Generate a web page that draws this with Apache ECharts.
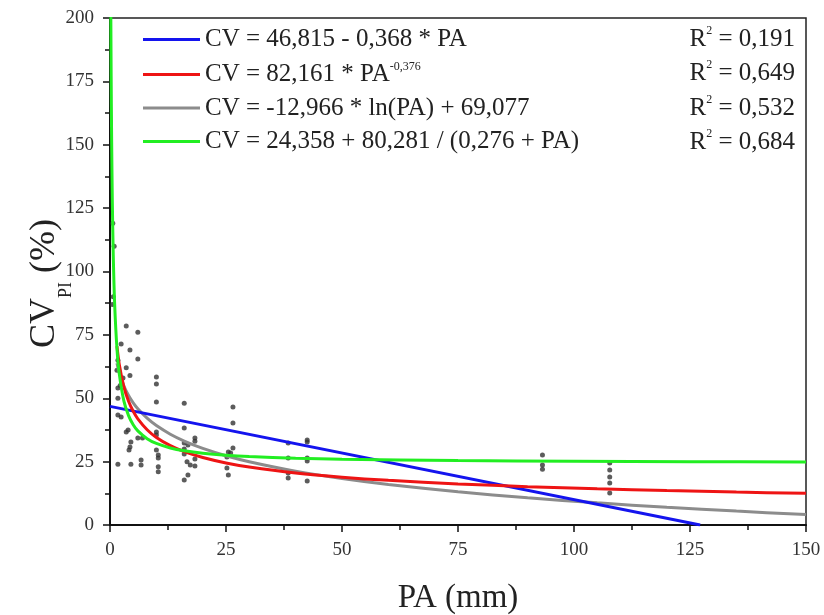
<!DOCTYPE html>
<html>
<head>
<meta charset="utf-8">
<script src="https://cdn.jsdelivr.net/npm/echarts@6/dist/echarts.min.js"></script>
<style>html,body{margin:0;padding:0;background:#fff}#c{width:824px;height:615px}</style>
</head>
<body>
<div id="c"></div>
<script>
// Observed points (PA mm, CV %)
const pointsPA = [0.6,0.9,0.7,0.5,3.5,6,2.4,4.3,6,1.7,1.5,3.5,4.3,2.8,10,10,1.7,2.2,1.7,10,1.7,2.4,3.9,3.5,10,6,7,10,4.5,4.3,4.1,10,10.4,10.4,6.7,6.7,1.7,4.5,10.4,10.4,16,16,16,18.3,18.3,16,16.8,16,16,18.3,16.6,17.3,18.3,16.8,26.5,26.5,26.5,25.5,26,25.2,25.2,25.5,38.4,38.4,38.4,38.4,42.5,42.5,42.5,42.5,42.5,93.2,93.2,93.2,107.7,107.7,107.7,107.7,107.7];
const pointsCV = [119,110,90,87,78.5,76,71.4,69,65.5,65,61,62,59,58,58.4,55.6,54,55,50,48.5,43.4,42.6,37.5,36.7,36.7,34.3,34.3,35.5,32.7,30.8,29.6,29.6,27.6,26.4,25.6,23.7,24,24,23,21,17.8,48,38.3,34.3,33,32.3,31.6,30,28,26,25,23.7,23.3,19.7,46.5,40.2,30.4,28.8,28.4,26.8,22.5,19.7,32.3,26.4,20.5,18.5,32.7,33.5,26.4,25.2,17.4,27.6,23.7,22,24.5,21.7,18.9,16.6,12.6];

// Fitted curves
const linPA = [0, 127.2];
const linCV = [46.8, 0];
const powPA = [1.5,2,3,4,5,6,8,10,13,16,20,25,30,40,50,60,75,90,105,120,135,150];
const powCV = [70.54,63.31,54.36,48.79,44.86,41.89,37.59,34.56,31.32,28.97,26.64,24.49,22.87,20.52,18.87,17.62,16.20,15.13,14.28,13.58,12.99,12.49];
const logPA = [1.5,2,3,4,5,6,8,10,13,16,20,25,30,40,50,60,75,90,105,120,135,150];
const logCV = [63.82,60.09,54.83,51.10,48.21,45.85,42.12,39.22,35.82,33.13,30.24,27.34,24.98,21.25,18.35,15.99,13.10,10.73,8.73,7.00,5.48,4.11];
const hypPA = [0.18,0.25,0.35,0.5,0.7,1,1.5,2,3,4,5,6,8,10,13,16,20,25,30,40,50,75,100,125,150];
const hypCV = [200.41,176.99,152.60,127.81,106.61,87.27,69.56,59.63,48.86,43.13,39.57,37.15,34.06,32.17,30.40,29.29,28.32,27.53,27.01,26.35,25.95,25.42,25.16,25.00,24.89];

const seriesNames = ['CV = 46,815 - 0,368 * PA', 'CV = 82,161 * PA', 'CV = -12,966 * ln(PA) + 69,077', 'CV = 24,358 + 80,281 / (0,276 + PA)'];
const powExponent = '-0,376';
const r2Values = ['0,191', '0,649', '0,532', '0,684'];
const xTicks = [0, 25, 50, 75, 100, 125, 150];
const yTicks = [0, 25, 50, 75, 100, 125, 150, 175, 200];

const zip = (a, b) => a.map((v, i) => [v, b[i]]);
const serif = '"Liberation Serif", "DejaVu Serif", serif';
const colors = ['#1414ee', '#ee1414', '#8c8c8c', '#22ee22'];

const chart = echarts.init(document.getElementById('c'));
const rowTop = 22, rowGap = 34.3;
const graphics = r2Values.map((r, i) => ({
  type: 'text', right: 29, top: rowTop + 3 + i * rowGap,
  style: {
    text: '{t|R}{s|2}{t| = ' + r + '}',
    rich: {
      t: { fontFamily: serif, fontSize: 25, lineHeight: 29, fill: '#222' },
      s: { fontFamily: serif, fontSize: 12, lineHeight: 12, verticalAlign: 'top', fill: '#222' }
    }
  }
}));

chart.setOption({
  animation: false,
  backgroundColor: '#fff',
  grid: { left: 110, right: 18, top: 18, bottom: 90, outerBoundsMode: 'none', containLabel: false,
    show: true, borderColor: '#222', borderWidth: 1.5 },
  xAxis: {
    type: 'value', min: 0, max: 150, interval: 25,
    name: 'PA (mm)', nameLocation: 'middle', nameGap: 57, nameMoveOverlap: false,
    nameTextStyle: { fontFamily: serif, fontSize: 33, color: '#222' },
    axisLine: { lineStyle: { color: '#111', width: 2 } },
    axisTick: { inside: false, length: 7, lineStyle: { color: '#111', width: 1.5 } },
    minorTick: { show: true, splitNumber: 2, length: 5, lineStyle: { color: '#111', width: 1.5 } },
    axisLabel: { fontFamily: serif, fontSize: 19, color: '#333', margin: 16,
      formatter: v => xTicks.includes(v) ? String(v) : '' },
    splitLine: { show: false }
  },
  yAxis: {
    type: 'value', min: 0, max: 200, interval: 25,
    name: '{a|CV}{b|PI}{a| (%)}', nameLocation: 'middle', nameGap: 47, nameRotate: 90, nameMoveOverlap: false,
    nameTextStyle: {
      padding: [0, 24, 0, 0],
      rich: {
        a: { fontFamily: serif, fontSize: 36, lineHeight: 36, color: '#222' },
        b: { fontFamily: serif, fontSize: 18, lineHeight: 18, verticalAlign: 'bottom', color: '#222', padding: [0, 0, -12, 0] }
      }
    },
    axisLine: { lineStyle: { color: '#111', width: 2 } },
    axisTick: { inside: false, length: 7, lineStyle: { color: '#111', width: 1.5 } },
    minorTick: { show: true, splitNumber: 2, length: 5, lineStyle: { color: '#111', width: 1.5 } },
    axisLabel: { fontFamily: serif, fontSize: 19, color: '#333', margin: 16,
      formatter: v => yTicks.includes(v) ? String(v) : '' },
    splitLine: { show: false }
  },
  legend: {
    orient: 'vertical', left: 138, top: rowTop, itemWidth: 57, itemHeight: 3, itemGap: 8.5,
    icon: 'rect', selectedMode: false,
    data: seriesNames,
    formatter: name => name === seriesNames[1] ? '{t|' + name + '}{s|' + powExponent + '}' : '{t|' + name + '}',
    textStyle: {
      padding: [0, 0, 0, 0],
      rich: {
        t: { fontFamily: serif, fontSize: 25, lineHeight: 28, color: '#222' },
        s: { fontFamily: serif, fontSize: 12, lineHeight: 12, verticalAlign: 'top', color: '#222' }
      }
    }
  },
  graphic: graphics,
  series: [
    { type: 'scatter', name: 'data', data: zip(pointsPA, pointsCV), symbol: 'circle', symbolSize: 5,
      itemStyle: { color: '#333' }, z: 1 },
    { type: 'line', name: seriesNames[0], data: zip(linPA, linCV), showSymbol: false, lineStyle: { color: colors[0], width: 3 }, itemStyle: { color: colors[0] }, z: 3 },
    { type: 'line', name: seriesNames[1], data: zip(powPA, powCV), smooth: 0.3, showSymbol: false, lineStyle: { color: colors[1], width: 3 }, itemStyle: { color: colors[1] }, z: 3 },
    { type: 'line', name: seriesNames[2], data: zip(logPA, logCV), smooth: 0.3, showSymbol: false, lineStyle: { color: colors[2], width: 3 }, itemStyle: { color: colors[2] }, z: 2 },
    { type: 'line', name: seriesNames[3], data: zip(hypPA, hypCV), smooth: 0.3, showSymbol: false, lineStyle: { color: colors[3], width: 3 }, itemStyle: { color: colors[3] }, z: 4 }
  ]
});
</script>
</body>
</html>
